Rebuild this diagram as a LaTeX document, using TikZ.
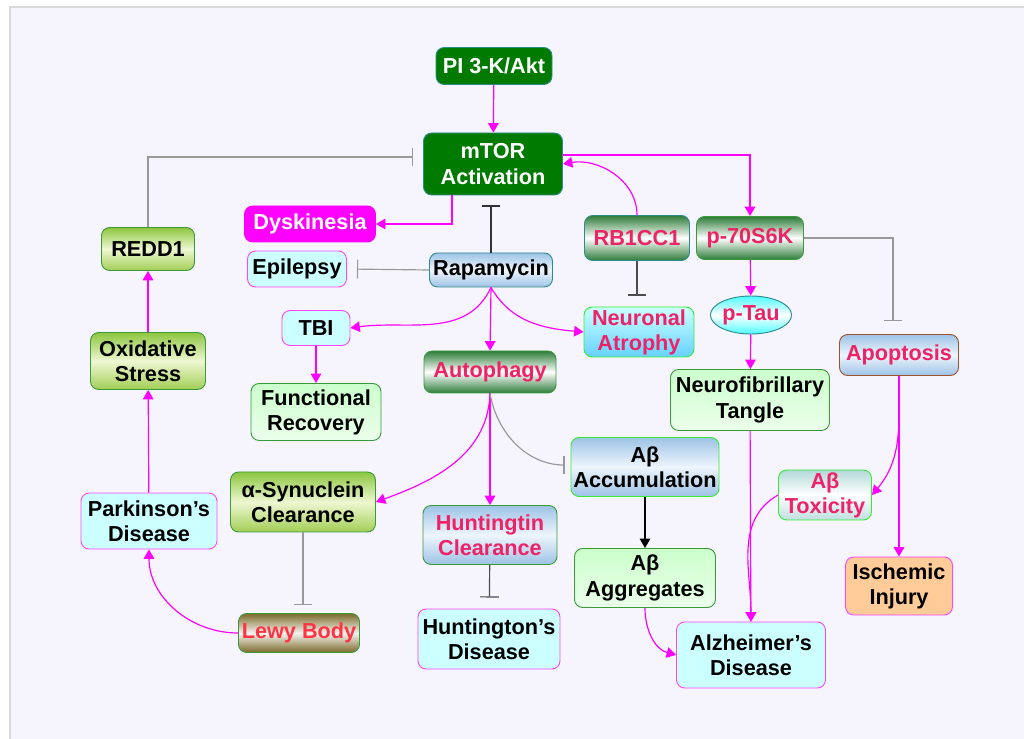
\documentclass[tikz,border=0pt]{standalone}
\usepackage{fontspec}
\setmainfont{Liberation Sans}
\usepackage{xcolor}
\usetikzlibrary{arrows.meta,shapes.geometric}

\definecolor{bgc}{HTML}{F6F5FD}
\definecolor{dkgreen}{HTML}{007A00}
\definecolor{tealb}{HTML}{2E8B8B}
\definecolor{pinktxt}{HTML}{EE2266}
\definecolor{redtxt}{HTML}{FF3344}
\definecolor{mag}{HTML}{FF00FF}
\definecolor{magb}{HTML}{FF44FF}
\definecolor{lcyan}{HTML}{CCFFFF}
\definecolor{lgreen}{HTML}{CCFFCC}
\definecolor{brgreen}{HTML}{33EE33}
\definecolor{midgreen}{HTML}{3A9A3A}
\definecolor{dgshade}{HTML}{2E7D3A}
\definecolor{ygtop}{HTML}{8DC63F}
\definecolor{ygmid}{HTML}{EEF7D2}
\definecolor{ygbot}{HTML}{A2CE55}
\definecolor{bltop}{HTML}{9DC3E6}
\definecolor{blmid}{HTML}{EEF5FC}
\definecolor{orng}{HTML}{FFCC99}
\definecolor{olive}{HTML}{7B6B2B}
\definecolor{brownb}{HTML}{A0522D}

\begin{document}
\begin{tikzpicture}[x=0.03cm,y=-0.03cm]
      \useasboundingbox (0,0) rectangle (1024,739);
      \fill[bgc] (10,7) rectangle (1024,739);
      \draw[black!15,line width=1.5pt] (10,739) -- (10,7) -- (1024,7);
      \tikzset{B/.style = {shape=rectangle, rounded corners=7pt, draw, align=center, inner sep=0pt, line width=0.8pt, text=black, font=\fontsize{18.5}{21.5}\selectfont\bfseries}}
      \tikzset{sz/.style 2 args = {minimum width=#1*0.03cm, minimum height=#2*0.03cm}}
      \tikzset{dg/.style = {top color=dgshade, bottom color=dgshade, middle color=white, draw=tealb, text=pinktxt}}
      \tikzset{yg/.style = {top color=ygtop, bottom color=ygbot, middle color=ygmid, draw=midgreen}}
      \tikzset{bl/.style = {top color=bltop, bottom color=bltop, middle color=blmid, draw=tealb}}
      \tikzset{lg/.style = {top color=lgreen, bottom color=lgreen!40, draw=midgreen}}
      \tikzset{cy/.style = {fill=lcyan, draw=magb}}
      \tikzset{E/.style = {draw=mag, line width=1pt, -{Triangle[length=8pt,width=9pt]}}}
      \tikzset{I/.style = {draw=black!40, line width=1pt, -{Bar[width=16pt]}, shorten >=0.3cm}}
      \node[B,sz={116}{37},fill=dkgreen,draw=tealb,text=white](pik) at (494,66) {PI 3-K/Akt};
      \node[B,sz={139}{62},fill=dkgreen,draw=tealb,text=white](mtor) at (493,164) {mTOR\\Activation};
      \node[B,sz={131}{36},fill=mag,draw=mag,text=white](dys) at (310,224) {Dyskinesia};
      \node[B,yg,sz={93}{43}](redd) at (148,249) {REDD1};
      \node[B,cy,sz={99}{36}](epi) at (297,269) {Epilepsy};
      \node[B,bl,sz={123}{34}](rapa) at (491,270) {Rapamycin};
      \node[B,dg,sz={105}{45}](rb) at (637,238) {RB1CC1};
      \node[B,dg,sz={107}{43},draw=midgreen](pk) at (750,238) {p-70S6K};
      \node[B,cy,sz={68}{35}](tbi) at (316,328) {TBI};
      \node[B,dg,sz={132}{42},draw=midgreen](aut) at (490,372) {Autophagy};
      \node[B,sz={110}{50},top color=lcyan,bottom color=cyan!70!blue!60,draw=brgreen,text=pinktxt](neu) at (639,332) {Neuronal\\Atrophy};
      \node[B,shape=ellipse,sz={70}{38},top color=cyan!70,bottom color=cyan!70,middle color=white,draw=tealb,text=pinktxt](tau) at (751,315) {p-Tau};
      \node[B,bl,sz={119}{41},draw=brownb,text=pinktxt](apo) at (899,355) {Apoptosis};
      \node[B,yg,sz={115}{57}](ox) at (148,361) {Oxidative\\Stress};
      \node[B,lg,sz={130}{57}](fr) at (316,412) {Functional\\Recovery};
      \node[B,lg,sz={159}{61}](nft) at (750,400) {Neurofibrillary\\Tangle};
      \node[B,bl,sz={148}{59},draw=brgreen](acc) at (645,467) {Aβ\\Accumulation};
      \node[B,yg,sz={145}{60}](syn) at (303,502) {α-Synuclein\\Clearance};
      \node[B,cy,sz={136}{56}](pd) at (149,521) {Parkinson’s\\Disease};
      \node[B,bl,sz={134}{59},draw=midgreen,text=pinktxt](htt) at (490,535) {Huntingtin\\Clearance};
      \node[B,sz={93}{50},top color=teal!30,bottom color=teal!25,middle color=white,draw=brgreen,text=pinktxt](tox) at (825,495) {Aβ\\Toxicity};
      \node[B,lg,sz={141}{59}](agg) at (645,578) {Aβ\\Aggregates};
      \node[B,sz={107}{58},fill=orng,draw=magb](isc) at (899,586) {Ischemic\\Injury};
      \node[B,sz={121}{39},top color=olive,bottom color=olive,middle color=olive!8,draw=midgreen,text=redtxt](lewy) at (299,633) {Lewy Body};
      \node[B,cy,sz={142}{60}](hd) at (489,639) {Huntington’s\\Disease};
      \node[B,cy,sz={149}{66}](ad) at (751,655) {Alzheimer’s\\Disease};
      \draw[E](pik) -- (mtor);
      \draw[I](redd.north) |- ([yshift=0.21cm]mtor.west);
      \draw[E]([xshift=-1.23cm]mtor.south) |- (dys.east);
      \draw[I,draw=black!80](rapa.north) -- (rapa.north |- mtor.south);
      \draw[I](rapa.west) -- (epi.east);
      \draw[E](rb.north) to[out=90,in=10] (mtor.east);
      \draw[E]([yshift=0.27cm]mtor.east) -| (pk.north);
      \draw[I,draw=black!70,shorten >=0.33cm](rb.south) -- (rb.south |- neu.north);
      \draw[I,shorten >=0.39cm](pk.east) -| ([xshift=-0.18cm]apo.north);
      \draw[E](pk) -- (tau);
      \draw[E](tau) -- (nft);
      \draw[E](rapa.south) to[out=-115,in=8] (tbi.east);
      \draw[E](rapa.south) -- (aut.north);
      \draw[E](rapa.south) to[out=-60,in=175] (neu.west);
      \draw[E](tbi) -- (fr);
      \draw[E](aut.south) to[out=-92,in=20] (syn.east);
      \draw[E](aut) -- (htt);
      \draw[I,shorten >=0.18cm](aut.south) to[out=-80,in=180] ([yshift=0.06cm]acc.west);
      \draw[E,draw=black](acc) -- (agg);
      \draw[I,shorten >=0.24cm](syn.south) -- (syn.south |- lewy.north);
      \draw[I,draw=black!70,shorten >=0.33cm](htt) -- (hd);
      \draw[E](lewy.west) to[out=180,in=-90] (pd.south);
      \draw[E](pd) -- (ox);
      \draw[E](ox) -- (redd);
      \draw[E](nft) -- (ad);
      \draw[E](tox.west) to[out=-150,in=90] (ad.north);
      \draw[E](apo.south) to[out=-90,in=50] (tox.east);
      \draw[E](apo) -- (isc);
      \draw[E](agg.south) to[out=-90,in=165] (ad.west);
    \end{tikzpicture}
\end{document}
